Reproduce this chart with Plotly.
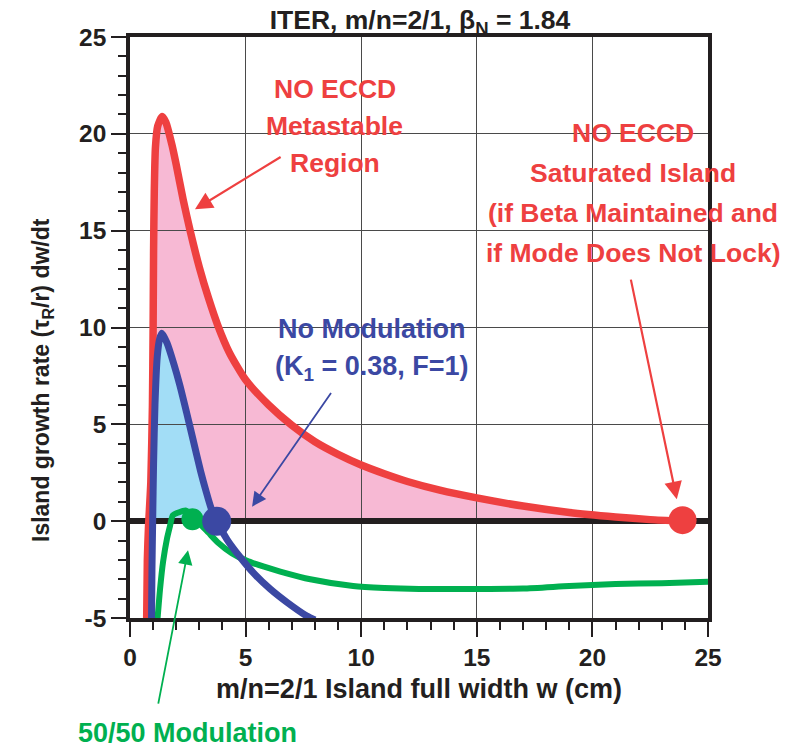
import numpy as np
import plotly.graph_objects as go

# ---------------- data ----------------
red_x = [0.72, 0.75, 0.80, 0.90, 0.97, 1.00, 1.02, 1.05, 1.10, 1.20, 1.39, 1.55, 1.82, 2.00,
         2.30, 2.60, 3.00, 3.40, 3.80, 4.30, 5.00, 6.00, 7.00, 8.00, 9.00, 10.0, 11.0, 12.0,
         13.4, 15.0, 17.0, 19.0, 21.0, 22.5, 23.9]
red_y = [-5.2, -2.0, -0.3, 2.0, 6.0, 10.0, 14.0, 17.0, 19.3, 20.4, 20.9, 20.6, 19.4, 18.4,
         16.6, 15.0, 13.1, 11.5, 10.1, 8.7, 7.3, 6.0, 4.95, 4.1, 3.45, 2.9, 2.45, 2.05,
         1.6, 1.2, 0.78, 0.45, 0.22, 0.08, 0.0]

blue_x = [0.93, 0.95, 0.98, 1.02, 1.08, 1.18, 1.28, 1.38, 1.60, 1.90, 2.16, 2.45, 2.73, 3.05,
          3.30, 3.50, 3.75, 4.20, 4.76, 5.40, 6.06, 6.80, 7.65, 8.00]
blue_y = [-5.2, -2.5, 0.0, 3.0, 6.0, 8.5, 9.4, 9.7, 9.2, 8.1, 7.0, 5.6, 4.2, 2.6,
          1.5, 0.7, 0.0, -0.95, -1.85, -2.75, -3.5, -4.2, -4.9, -5.1]

green_x = [1.18, 1.30, 1.43, 1.60, 1.73, 1.85, 2.10, 2.40, 2.70, 3.00, 3.40, 3.80, 4.40, 5.06,
           5.80, 6.50, 7.80, 9.65, 11.0, 12.5, 15.0, 17.0, 19.0, 21.0, 23.0, 25.0]
green_y = [-5.2, -3.5, -2.1, -0.9, -0.25, 0.30, 0.45, 0.55, 0.30, -0.10, -0.60, -1.10, -1.65, -2.05,
           -2.35, -2.60, -3.00, -3.35, -3.45, -3.50, -3.50, -3.48, -3.35, -3.25, -3.20, -3.13]

# solutions dW/dt = 0 (marked points)
pt_red = (23.9, 0.05)
pt_blue = (3.75, 0.0)
pt_green = (2.70, 0.10)

x_ticks = [0, 5, 10, 15, 20, 25]
x_labels = ["0", "5", "10", "15", "20", "25"]
y_ticks = [-5, 0, 5, 10, 15, 20, 25]
y_labels = ["-5", "0", "5", "10", "15", "20", "25"]

RED = "#EE4040"
BLUE = "#3B48A3"
GREEN = "#00B050"
PINK = "#F7B9D4"
LBLUE = "#A2DDF6"
INK = "#231F20"
REG = "Liberation Sans, Arial, sans-serif"
BOLD = "bold"


def fill_path(xs, ys):
    xs = np.asarray(xs, float)
    ys = np.maximum(np.asarray(ys, float), 0.0)
    pts = " L ".join(f"{x},{y}" for x, y in zip(xs, ys))
    return f"M {xs[0]},0 L {pts} L {xs[-1]},0 Z"


bmask = np.asarray(blue_y) >= 0
bx = np.asarray(blue_x)[bmask]
by = np.asarray(blue_y)[bmask]
rmask = np.asarray(red_y) >= -0.5
rx = np.asarray(red_x)[rmask]
ry = np.asarray(red_y)[rmask]

fig = go.Figure()

fig.add_shape(type="path", path=fill_path(rx, ry), xref="x", yref="y",
              fillcolor=PINK, line=dict(width=0), layer="below")
fig.add_shape(type="path", path=fill_path(bx, by), xref="x", yref="y",
              fillcolor=LBLUE, line=dict(width=0), layer="below")

line_shape = dict(shape="spline", smoothing=0.6)
fig.add_trace(go.Scatter(x=red_x, y=red_y, mode="lines",
                         line=dict(color=RED, width=7.5, **line_shape), hoverinfo="skip"))
fig.add_trace(go.Scatter(x=green_x, y=green_y, mode="lines",
                         line=dict(color=GREEN, width=6, **line_shape), hoverinfo="skip"))
fig.add_trace(go.Scatter(x=blue_x, y=blue_y, mode="lines",
                         line=dict(color=BLUE, width=7, **line_shape), hoverinfo="skip"))

fig.add_trace(go.Scatter(x=[pt_green[0]], y=[pt_green[1]], mode="markers",
                         marker=dict(color=GREEN, size=22), hoverinfo="skip", cliponaxis=False))
fig.add_trace(go.Scatter(x=[pt_blue[0]], y=[pt_blue[1]], mode="markers",
                         marker=dict(color=BLUE, size=29), hoverinfo="skip", cliponaxis=False))
fig.add_trace(go.Scatter(x=[pt_red[0]], y=[pt_red[1]], mode="markers",
                         marker=dict(color=RED, size=28), hoverinfo="skip", cliponaxis=False))

ann = []


def text_lines(lines, xc, ys, color, size):
    for t, yy in zip(lines, ys):
        ann.append(dict(x=xc, y=yy, xref="x", yref="y", text=t, showarrow=False,
                        font=dict(color=color, size=size, family=REG, weight=BOLD),
                        xanchor="center", yanchor="middle"))


def arrow(head, tail, color, width, headsize=1.6):
    ann.append(dict(x=head[0], y=head[1], ax=tail[0], ay=tail[1], xref="x", yref="y",
                    axref="x", ayref="y", text="", showarrow=True, arrowhead=2,
                    arrowsize=headsize, arrowwidth=width, arrowcolor=color,
                    font=dict(size=10)))


text_lines(["NO ECCD", "Metastable", "Region"], 8.85, [22.3, 20.4, 18.5], RED, 26.5)
text_lines(["NO ECCD", "Saturated Island", "(if Beta Maintained and", "if Mode Does Not Lock)"],
           21.75, [20.05, 18.0, 15.93, 13.87], RED, 26.5)
text_lines(["No Modulation", "(K<sub>1</sub> = 0.38, F=1)"], 10.45, [9.9, 7.9], BLUE, 27)
# "50/50 Modulation" label below the axis (pixel centre ~ (187, 733))
ann.append(dict(x=(187 - 130) / 578, y=(618 - 733) / 581, xref="paper", yref="paper",
                text="50/50 Modulation", showarrow=False,
                font=dict(color=GREEN, size=27, family=REG, weight=BOLD),
                xanchor="center", yanchor="middle"))
# y axis title placed as rotated annotation
ann.append(dict(x=(42 - 130) / 578, y=(618 - 380) / 581, xref="paper", yref="paper",
                text="Island growth rate (τ<sub>R</sub>/r) dw/dt", showarrow=False,
                textangle=-90, font=dict(color=INK, size=23, family=REG, weight=BOLD),
                xanchor="center", yanchor="middle"))

arrow((2.81, 16.1), (6.58, 18.85), RED, 2.2)
arrow((23.65, 1.13), (21.65, 12.55), RED, 2.2)
arrow((5.28, 0.75), (8.74, 6.7), BLUE, 1.8)
arrow((2.51, -1.5), (1.21, -9.5), GREEN, 1.8)

fig.update_layout(
    width=793, height=747,
    margin=dict(l=130, r=85, t=37, b=129),
    paper_bgcolor="white", plot_bgcolor="white",
    showlegend=False,
    title=dict(text="ITER, m/n=2/1, β<sub>N</sub> = 1.84", x=(420 / 793), xanchor="center",
               y=1 - 20 / 747, yanchor="middle",
               font=dict(size=26.5, family=REG, color=INK, weight=BOLD)),
    annotations=ann,
)

axis_common = dict(
    showgrid=True, gridcolor="#4A4A4A", gridwidth=1.3,
    showline=True, linecolor=INK, linewidth=3.5, mirror=True,
    ticks="outside", ticklen=15, tickwidth=1.5, tickcolor=INK,
    tickfont=dict(size=24.5, family=REG, color=INK, weight=BOLD),
    minor=dict(dtick=1, ticks="outside", ticklen=8, tickwidth=1.5, tickcolor=INK,
               showgrid=False),
)

fig.update_xaxes(range=[0, 25], tickvals=x_ticks, ticktext=x_labels, zeroline=False,
                 title=dict(text="m/n=2/1 Island full width w (cm)", standoff=10,
                            font=dict(size=27, family=REG, color=INK, weight=BOLD)),
                 **axis_common)
fig.update_yaxes(range=[-5, 25], tickvals=y_ticks, ticktext=y_labels, zeroline=True,
                 zerolinecolor=INK, zerolinewidth=6,
                 **axis_common)

fig.write_html("out.html")
